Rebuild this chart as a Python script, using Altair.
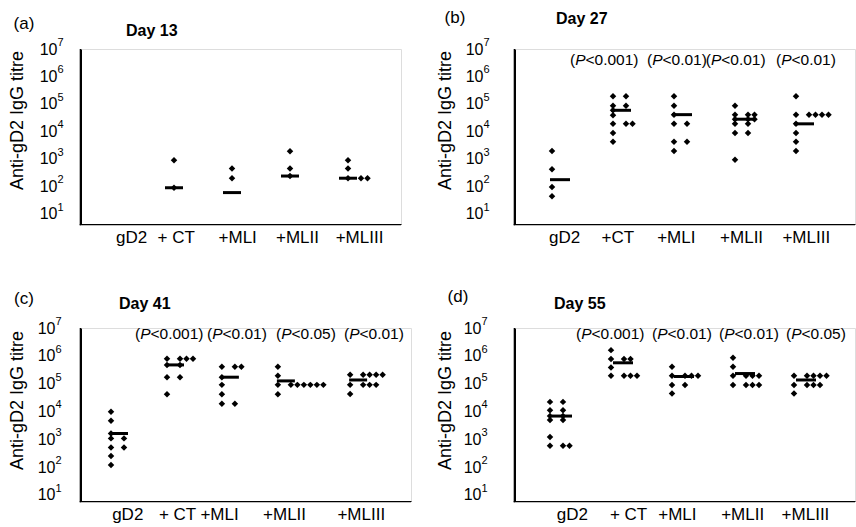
import altair as alt
import pandas as pd

# ---------------- data (titres) ----------------
groups = ["gD2", "+CT", "+MLI", "+MLII", "+MLIII"]
exponents = [1, 2, 3, 4, 5, 6, 7]

# Day 13
d13_gD2 = []
d13_CT = [900, 90]
d13_MLI = [450, 200]
d13_MLII = [1900, 450, 240]
d13_MLIII = [900, 450, 200, 200, 200]
d13_median = [None, 90, 60, 240, 200]
d13_p = [None, None, None, None, None]

# Day 27
d27_gD2 = [1950, 425, 96, 44]
d27_CT = [190000, 190000, 87000, 87000, 59000, 39000, 19000, 19000, 19000, 8900, 4200]
d27_MLI = [190000, 87000, 41000, 19000, 19000, 4200, 4200, 1950]
d27_MLII = [87000, 41000, 41000, 41000, 28000, 28000, 28000, 19000, 19000, 8900, 8900, 940]
d27_MLIII = [190000, 41000, 41000, 41000, 41000, 41000, 19000, 8900, 4200, 1950]
d27_median = [177, 59000, 41000, 28000, 19000]
d27_p = [None, "<0.001)", "<0.01)", "<0.01)", "<0.01)"]

# Day 41
d41_gD2 = [9800, 4600, 1600, 1070, 1070, 500, 500, 250, 117]
d41_CT = [790000, 790000, 790000, 790000, 470000, 470000, 170000, 170000, 41000]
d41_MLI = [400000, 400000, 400000, 170000, 90000, 41000, 19000, 19000]
d41_MLII = [400000, 190000, 90000, 90000, 90000, 90000, 90000, 90000, 90000, 41000]
d41_MLIII = [210000, 210000, 210000, 210000, 210000, 90000, 90000, 90000, 90000, 42000]
d41_median = [1600, 470000, 170000, 125000, 135000]
d41_p = [None, "<0.001)", "<0.01)", "<0.05)", "<0.01)"]

# Day 55
d55_gD2 = [22000, 22000, 11000, 11000, 6800, 6800, 4900, 4900, 1200, 580, 580, 580]
d55_CT = [1600000, 760000, 760000, 760000, 380000, 190000, 190000, 190000, 190000]
d55_MLI = [400000, 190000, 190000, 190000, 190000, 89000, 89000, 44000]
d55_MLII = [850000, 400000, 190000, 190000, 190000, 190000, 89000, 89000, 89000, 89000]
d55_MLIII = [190000, 190000, 190000, 190000, 190000, 89000, 89000, 89000, 89000, 44000]
d55_median = [6800, 560000, 180000, 230000, 135000]
d55_p = [None, "<0.001)", "<0.01)", "<0.01)", "<0.05)"]

FONT = "Liberation Sans"

# ---------------- layout (pixels / category units) ----------------
LAY = {
    "a": dict(W=320, H=175, unit=58, x0=35, cols=[0, 1, 2, 3, 4],
              labpos=[0.26, 1.03, 2.09, 3.12, 4.19], ppos=[0, 1, 2, 3, 4],
              names=["gD2", "+ CT", "+MLI", "+MLII", "+MLIII"],
              ylo=0.636, py=10 ** 6.6, bar_off=0, bar_half=9, lab_pad=24,
              tx=-64, ty=71, letter=(-57, -25), day=(45, -18)),
    "b": dict(W=340, H=175, unit=61, x0=37, cols=[0, 1, 2, 3, 4],
              labpos=[0.20, 1.07, 2.03, 3.10, 4.16],
              ppos=[0, 0.295, 1.557, 2.52, 3.672],
              names=["gD2", "+CT", "+MLI", "+MLII", "+MLIII"],
              ylo=0.636, py=10 ** 6.6, bar_off=8, bar_half=10, lab_pad=32,
              tx=-70, ty=71, letter=(-60, -31), day=(41, -30)),
    "c": dict(W=330, H=173, unit=56, x0=30, cols=[0, 1, 1.98, 2.98, 4.27],
              labpos=[0.29, 1.18, 1.93, 3.09, 4.46],
              ppos=[0, 0.429, 1.714, 2.946, 4.161],
              names=["gD2", "+ CT", "+MLI", "+MLII", "+MLIII"],
              ylo=0.777, py=10 ** 6.8, bar_off=8, bar_half=9, lab_pad=26,
              tx=-64, ty=72, letter=(-57, -29), day=(38, -24)),
    "d": dict(W=340, H=173, unit=61, x0=35, cols=[0, 1, 2, 3, 4],
              labpos=[0.36, 1.28, 2.08, 3.15, 4.18],
              ppos=[0, 0.426, 1.672, 2.770, 3.869],
              names=["gD2", "+ CT", "+MLI", "+MLII", "+MLIII"],
              ylo=0.777, py=10 ** 6.8, bar_off=12, bar_half=10, lab_pad=34,
              tx=-70, ty=72, letter=(-57, -31), day=(39, -24)),
}

SLOT_PX = 6.5
PFS = 15.5  # font size of the P-value notes
LINE_PX = 1.3  # thickness of the axis lines


def panel(key, day, series, medians, pvals, anchor=False):
    L = LAY[key]
    u = L["unit"]
    W, H = L["W"], L["H"]
    xdom = [-L["x0"] / u, (W - L["x0"]) / u]
    ylo = 10 ** L["ylo"]
    dec_px = H / (7 - L["ylo"])
    xs = alt.Scale(domain=xdom, nice=False, zero=False)
    ys = alt.Scale(type="log", domain=[ylo, 1e7], nice=False)

    pts = []
    for gi, vals in enumerate(series):
        seen = {}
        for v in vals:
            k = seen.get(v, 0)
            seen[v] = k + 1
            off = 0 if k == 0 else (k + 1) * SLOT_PX
            pts.append({"x": L["cols"][gi] + off / u, "v": v, "g": groups[gi]})
    pdf = pd.DataFrame(pts)

    bars = []
    for gi, m in enumerate(medians):
        if m is None:
            continue
        c = L["cols"][gi] + L["bar_off"] / u
        bars.append({"x": c - L["bar_half"] / u, "x2": c + L["bar_half"] / u, "v": m})
    bdf = pd.DataFrame(bars)

    names = L["names"]
    lab_expr = "[" + ",".join("'%s'" % n for n in names) + "][round(datum.value)]"
    xaxis = alt.Axis(values=L["labpos"], labelExpr=lab_expr, ticks=False, domain=True,
                     grid=False, domainColor="#000000", domainWidth=1, labelFontSize=17,
                     labelColor="black", labelPadding=5, labelOverlap=False,
                     labelFlush=False, title=None, labelFont=FONT)
    yaxis = alt.Axis(values=[10 ** k for k in exponents], labelExpr="'10'",
                     ticks=False, domain=True, grid=False, domainColor="#000000",
                     domainWidth=1, labelFontSize=16, labelColor="black",
                     labelPadding=L["lab_pad"], labelOverlap=False, labelFlush=False,
                     labelFont=FONT, title="Anti-gD2 IgG titre", titleFont=FONT,
                     titleFontSize=18, titleFontWeight="normal", titleColor="black",
                     titleX=L["tx"], titleY=L["ty"], titleAlign="center",
                     titleBaseline="middle")
    X = alt.X("x:Q", scale=xs, axis=xaxis)
    Y = alt.Y("v:Q", scale=ys, axis=yaxis)

    layers = []
    # axis lines as thin filled rectangles along the scale extremes
    below = ylo * 10 ** (-LINE_PX / dec_px)
    layers.append(alt.Chart(pd.DataFrame({"x": [xdom[0] - LINE_PX / u], "x2": [xdom[1]],
                                          "v": [below], "v2": [ylo]}))
                  .mark_rect(color="black", opacity=1)
                  .encode(x=X, x2="x2:Q", y=Y, y2="v2:Q"))
    layers.append(alt.Chart(pd.DataFrame({"x": [xdom[0] - LINE_PX / u], "x2": [xdom[0]],
                                          "v": [below], "v2": [1e7]}))
                  .mark_rect(color="black", opacity=1)
                  .encode(x=X, x2="x2:Q", y=Y, y2="v2:Q"))
    layers.append(
        alt.Chart(pdf).mark_point(shape="diamond", filled=True, color="black",
                                  size=42, opacity=1)
        .encode(x=X, y=Y)
    )
    layers.append(
        alt.Chart(bdf).mark_rule(color="black", strokeWidth=3)
        .encode(x=X, x2="x2:Q", y=Y)
    )
    # superscript exponents of the tick labels
    edf = pd.DataFrame({"v": [10 ** k for k in exponents], "e": [str(k) for k in exponents]})
    layers.append(alt.Chart(edf).mark_text(align="left", baseline="middle", dy=-6,
                                           fontSize=11, font=FONT, color="black")
                  .encode(text="e:N", x=alt.value(-L["lab_pad"] + 0.5), y=Y))
    prow = [{"x": L["ppos"][gi], "v": L["py"], "t": p}
            for gi, p in enumerate(pvals) if p is not None]
    if prow:
        base = alt.Chart(pd.DataFrame(prow))
        w_par = 0.333 * PFS
        w_p = 0.667 * PFS
        layers.append(base.mark_text(text="(", align="left", baseline="middle",
                                     fontSize=PFS, font=FONT, color="black")
                      .encode(x=X, y=Y))
        layers.append(base.mark_text(text="P", align="left", dx=w_par, baseline="middle",
                                     fontSize=PFS, font=FONT, fontStyle="italic",
                                     color="black").encode(x=X, y=Y))
        layers.append(base.mark_text(align="left", dx=w_par + w_p, baseline="middle",
                                     fontSize=PFS, font=FONT, color="black")
                      .encode(text="t:N", x=X, y=Y))
    lab = pd.DataFrame({"t": ["(%s)" % key]})
    layers.append(alt.Chart(lab).mark_text(align="center", baseline="middle", fontSize=17,
                                           font=FONT, color="black")
                  .encode(text="t:N", x=alt.value(L["letter"][0]), y=alt.value(L["letter"][1])))
    dd = pd.DataFrame({"t": [day]})
    layers.append(alt.Chart(dd).mark_text(align="left", baseline="middle", fontSize=16,
                                          font=FONT, fontWeight="bold", color="black")
                  .encode(text="t:N", x=alt.value(L["day"][0]), y=alt.value(L["day"][1])))
    if anchor:
        # invisible corner marker that pins the page's top-left corner
        layers.append(alt.Chart(pd.DataFrame({"t": [" "]}))
                      .mark_text(opacity=0)
                      .encode(text="t:N", x=alt.value(-80.5), y=alt.value(-42.5)))
    return alt.layer(*layers).properties(width=W, height=H)


pa = panel("a", "Day 13", [d13_gD2, d13_CT, d13_MLI, d13_MLII, d13_MLIII], d13_median, d13_p,
           anchor=True)
pb = panel("b", "Day 27", [d27_gD2, d27_CT, d27_MLI, d27_MLII, d27_MLIII], d27_median, d27_p)
pc = panel("c", "Day 41", [d41_gD2, d41_CT, d41_MLI, d41_MLII, d41_MLIII], d41_median, d41_p)
pd_ = panel("d", "Day 55", [d55_gD2, d55_CT, d55_MLI, d55_MLII, d55_MLIII], d55_median, d55_p)

chart = (alt.concat(pa, pb, pc, pd_, columns=2, spacing={"row": 104, "column": 104},
                    bounds="flush")
         .properties(padding={"left": 0, "top": 0, "right": 0, "bottom": 0})
         .configure_view(stroke="transparent")
         .configure(font=FONT, background="white"))

chart.save("out.html", embed_options={"renderer": "svg", "actions": False})
